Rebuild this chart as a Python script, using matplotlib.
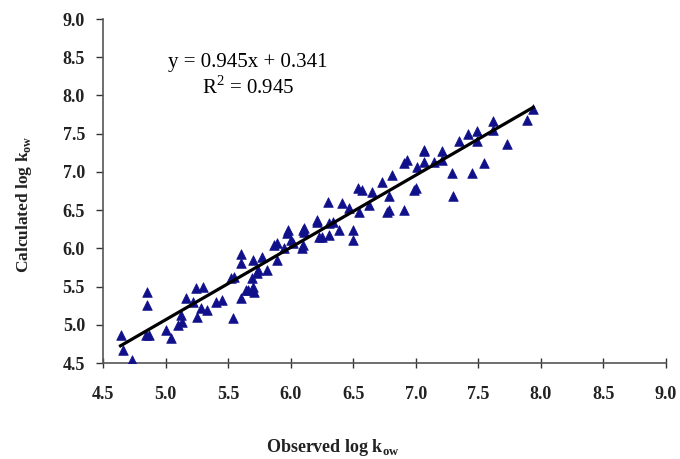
import matplotlib
matplotlib.use("Agg")
import matplotlib.pyplot as plt
import numpy as np

# observed vs calculated log k_ow
observed = [4.64, 4.66, 4.73, 4.85, 4.85, 4.84, 4.87, 5.00, 5.04, 5.10, 5.13, 5.12,
            5.16, 5.24, 5.30, 5.25, 5.28, 5.22, 5.33, 5.40, 5.45, 5.52, 5.54, 5.55,
            5.60, 5.60, 5.60, 5.64, 5.66, 5.69, 5.70, 5.71, 5.70, 5.73, 5.74, 5.77,
            5.81, 5.87, 5.89, 5.89, 5.95, 5.97, 5.98, 6.00, 6.02, 6.09, 6.10, 6.10,
            6.11, 6.11, 6.21, 6.21, 6.23, 6.25, 6.31, 6.30, 6.31, 6.34, 6.39, 6.41,
            6.47, 6.50, 6.50, 6.54, 6.55, 6.57, 6.63, 6.65, 6.73, 6.77, 6.79, 6.79,
            6.81, 6.91, 6.91, 6.93, 6.99, 7.00, 7.01, 7.07, 7.07, 7.07, 7.15, 7.21,
            7.21, 7.29, 7.30, 7.35, 7.42, 7.45, 7.49, 7.49, 7.55, 7.62, 7.62, 7.73,
            7.89, 7.94]
calculated = [4.87, 4.67, 4.54, 5.43, 5.26, 4.87, 4.87, 4.93, 4.83, 5.00, 5.04, 5.13,
              5.35, 5.48, 5.50, 5.10, 5.22, 5.30, 5.19, 5.30, 5.33, 5.61, 5.09, 5.62,
              5.92, 5.81, 5.35, 5.46, 5.46, 5.61, 5.85, 5.43, 5.50, 5.68, 5.72, 5.89,
              5.72, 6.05, 5.85, 6.07, 6.00, 6.20, 6.24, 6.11, 6.07, 6.00, 6.05, 6.24,
              6.22, 6.27, 6.35, 6.37, 6.15, 6.15, 6.18, 6.61, 6.33, 6.35, 6.24, 6.60,
              6.53, 6.24, 6.11, 6.79, 6.47, 6.77, 6.57, 6.74, 6.87, 6.48, 6.68, 6.50,
              6.96, 7.12, 6.50, 7.16, 6.77, 6.79, 7.07, 7.27, 7.29, 7.13, 7.13, 7.27,
              7.15, 6.99, 6.68, 7.40, 7.49, 6.99, 7.53, 7.40, 7.12, 7.66, 7.55, 7.36,
              7.68, 7.82]

slope = 0.945
intercept = 0.341
r2 = 0.945

x_ticks = [4.5, 5.0, 5.5, 6.0, 6.5, 7.0, 7.5, 8.0, 8.5, 9.0]
y_ticks = [4.5, 5.0, 5.5, 6.0, 6.5, 7.0, 7.5, 8.0, 8.5, 9.0]

plt.rcParams['font.family'] = ['Liberation Serif', 'DejaVu Serif']
plt.rcParams['mathtext.fontset'] = 'custom'
plt.rcParams['mathtext.rm'] = 'Liberation Serif'
plt.rcParams['mathtext.bf'] = 'Liberation Serif:bold'

fig = plt.figure(figsize=(6.8, 4.59), dpi=100)
ax = fig.add_axes([0.1515, 0.209, 0.8275, 0.7496])

ax.scatter(observed, calculated, marker='^', s=48, color='#10108a',
           edgecolors='#10108a', linewidths=0.5, zorder=3)

xl = np.array([min(observed), max(observed)])
ax.plot(xl, slope * xl + intercept, color='black', lw=2.3, zorder=4)

ax.set_xlim(4.5, 9.0)
ax.set_ylim(4.5, 9.0)
ax.set_xticks(x_ticks)
ax.set_yticks(y_ticks)
ax.set_xticklabels(['%.1f' % v for v in x_ticks], fontweight='bold', fontsize=13)
ax.set_yticklabels(['%.1f' % v for v in y_ticks], fontweight='bold', fontsize=13)
ax.tick_params(axis='x', direction='inout', length=7, width=1, pad=13, colors='#333333',
               labelcolor='#222222')
ax.tick_params(axis='y', direction='out', length=5, width=1, pad=8, colors='#333333',
               labelcolor='#222222')

for side in ['top', 'right']:
    ax.spines[side].set_visible(False)
for side in ['left', 'bottom']:
    ax.spines[side].set_color('#555555')
    ax.spines[side].set_linewidth(1.2)

ax.text(0.258, 0.875, 'y = %.3fx + %.3f' % (slope, intercept), transform=ax.transAxes,
        ha='center', va='center', fontsize=15)
ax.text(0.258, 0.80, 'R$^2$ = %.3f' % r2, transform=ax.transAxes,
        ha='center', va='center', fontsize=15)

fig.text(0.035, 0.556, r'Calculated log k$_{\mathbf{ow}}$', rotation=90, ha='center',
         va='center', fontsize=12.5, fontweight='bold', color='#222222')
fig.text(0.49, 0.026, r'Observed log k$_{\mathbf{ow}}$', ha='center', va='center',
         fontsize=13, fontweight='bold', color='#222222')

fig.savefig('out.png', dpi=100)
